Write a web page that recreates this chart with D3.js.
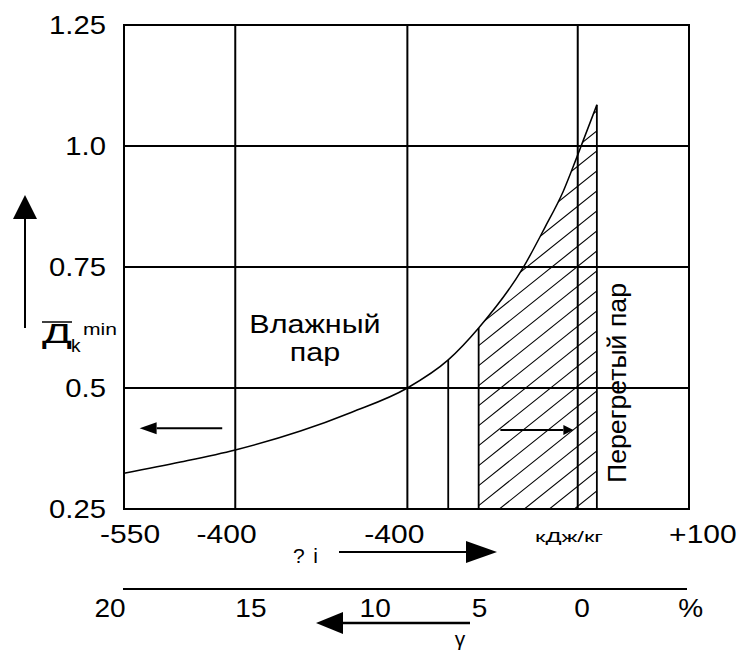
<!DOCTYPE html>
<html>
<head>
<meta charset="utf-8">
<script src="https://cdn.jsdelivr.net/npm/d3@7"></script>
<style>
  body { margin: 0; background: #fff; }
  text { font-family: "Liberation Sans", Arial, sans-serif; fill: #000; }
</style>
</head>
<body>
<div id="chart"></div>
<script>
// values
var yTicks = [0.25, 0.5, 0.75, 1.0, 1.25];
var yTickLabels = ["0.25", "0.5", "0.75", "1.0", "1.25"];

// vertical grid lines, in Δi (kJ/kg)
var iGrid = [-550, -422, -224, -28, 100];
var iTickAt = [-543, -432, -239, -38, 116];
var iTickLabels = ["-550", "-400", "-400", "кДж/кг", "+100"];

// moisture scale under the plot
var gammaTickAt = [-566, -404, -261, -141, -23, 102];
var gammaTickLabels = ["20", "15", "10", "5", "0", "%"];

// the curve D_k min vs Δi
var curveI = [-550, -485, -422, -347, -288, -224, -177, -142, -91, -66, -45, -29, -6];
var curveD = [0.324, 0.347, 0.372, 0.411, 0.450, 0.500, 0.558, 0.624, 0.748, 0.831, 0.905, 0.977, 1.085];

// lines dropped from the curve to the bottom
var dropI = [-177, -142, -6];
var hatchFrom = -142, hatchTo = -6;

var W = 740, H = 651;
var pLeft = 124, pRight = 689, pTop = 25, pBottom = 509;

var svg = d3.select("#chart").append("svg")
    .attr("width", W)
    .attr("height", H);

var x = d3.scaleLinear().domain([-550, 100]).range([pLeft, pRight]);
var y = d3.scaleLinear().domain([0.25, 1.25]).range([pBottom, pTop]);

var pts = curveI.map(function(d, i) { return [d, curveD[i]]; });

// stretch text horizontally like the original
function stretch(sel, k) {
  sel.each(function() {
    var len = this.getComputedTextLength();
    d3.select(this).attr("textLength", len * k).attr("lengthAdjust", "spacingAndGlyphs");
  });
}

// hatched region (superheated steam)
var hatchPts = pts.filter(function(p) { return p[0] >= hatchFrom; });
var area = d3.area()
    .x(function(p) { return x(p[0]); })
    .y0(y(0.25))
    .y1(function(p) { return y(p[1]); })
    .curve(d3.curveMonotoneX);

svg.append("clipPath").attr("id", "hclip")
  .append("path").attr("d", area(hatchPts));

var hx0 = x(hatchFrom), hx1 = x(hatchTo), slope = 0.8;
var hg = svg.append("g").attr("clip-path", "url(#hclip)");
hg.selectAll("line")
  .data(d3.range(pBottom + (hx1 - hx0) * slope + 2, pTop, -20))
  .enter().append("line")
    .attr("x1", hx0).attr("y1", function(b) { return b; })
    .attr("x2", hx1).attr("y2", function(b) { return b - (hx1 - hx0) * slope; })
    .attr("stroke", "#000").attr("stroke-width", 1.1);

// grid
svg.append("g").selectAll("line")
  .data(yTicks)
  .enter().append("line")
    .attr("x1", pLeft).attr("x2", pRight)
    .attr("y1", function(d) { return y(d); }).attr("y2", function(d) { return y(d); })
    .attr("stroke", "#000").attr("stroke-width", 2);

svg.append("g").selectAll("line")
  .data(iGrid)
  .enter().append("line")
    .attr("x1", function(d) { return x(d); }).attr("x2", function(d) { return x(d); })
    .attr("y1", pTop).attr("y2", pBottom)
    .attr("stroke", "#000").attr("stroke-width", 2);

// drop lines
svg.append("g").selectAll("line")
  .data(dropI)
  .enter().append("line")
    .attr("x1", function(d) { return x(d); }).attr("x2", function(d) { return x(d); })
    .attr("y1", function(d) { return y(curveD[curveI.indexOf(d)]); })
    .attr("y2", pBottom)
    .attr("stroke", "#000").attr("stroke-width", 1.8);

// curve
var line = d3.line()
    .x(function(p) { return x(p[0]); })
    .y(function(p) { return y(p[1]); })
    .curve(d3.curveMonotoneX);

svg.append("path")
    .datum(pts)
    .attr("d", line)
    .attr("fill", "none")
    .attr("stroke", "#000")
    .attr("stroke-width", 1.5);

// y tick labels
svg.append("g").selectAll("text")
  .data(yTicks)
  .enter().append("text")
    .attr("x", 106)
    .attr("y", function(d) { return y(d) + 9; })
    .attr("text-anchor", "end")
    .attr("font-size", 25)
    .text(function(d, i) { return yTickLabels[i]; })
    .call(stretch, 1.17);

// Δi labels
svg.append("g").selectAll("text")
  .data(iTickAt)
  .enter().append("text")
    .attr("x", function(d) { return x(d); })
    .attr("y", function(d, i) { return i == 3 ? 542 : 543; })
    .attr("text-anchor", "middle")
    .attr("font-size", function(d, i) { return i == 3 ? 14 : 25; })
    .text(function(d, i) { return iTickLabels[i]; })
    .each(function(d, i) {
      var len = this.getComputedTextLength();
      d3.select(this).attr("textLength", i == 3 ? 68 : len * 1.2).attr("lengthAdjust", "spacingAndGlyphs");
    });

// γ labels
svg.append("line")
    .attr("x1", pLeft - 1).attr("x2", pRight - 2)
    .attr("y1", 589).attr("y2", 589)
    .attr("stroke", "#000").attr("stroke-width", 2);

svg.append("g").selectAll("text")
  .data(gammaTickAt)
  .enter().append("text")
    .attr("x", function(d) { return x(d); })
    .attr("y", 617)
    .attr("text-anchor", "middle")
    .attr("font-size", 25)
    .text(function(d, i) { return gammaTickLabels[i]; })
    .call(stretch, 1.12);

// arrows
function arrow(x1, x2, yy, len, half, sw) {
  var dir = x2 > x1 ? 1 : -1;
  var base = x2 - dir * len;
  svg.append("line")
      .attr("x1", x1).attr("x2", base).attr("y1", yy).attr("y2", yy)
      .attr("stroke", "#000").attr("stroke-width", sw);
  svg.append("path")
      .attr("d", "M" + base + "," + (yy - half) + "L" + x2 + "," + yy + "L" + base + "," + (yy + half) + "Z")
      .attr("fill", "#000");
}

arrow(339, 497, 552, 31, 11, 2);              // Δi arrow
arrow(470, 316, 623, 27, 11, 2.5);            // γ arrow
arrow(x(-437), x(-532), y(0.417), 17, 6, 2);  // wet steam
arrow(x(-117), x(-33), y(0.413), 10, 5, 2);   // superheated

// y axis arrow
svg.append("line")
    .attr("x1", 25).attr("x2", 25).attr("y1", 328).attr("y2", 216)
    .attr("stroke", "#000").attr("stroke-width", 2);
svg.append("path")
    .attr("d", "M13,219L25,195L37,219Z")
    .attr("fill", "#000");

// y axis title  D̄k^min
svg.append("line")
    .attr("x1", 42).attr("x2", 72).attr("y1", 322).attr("y2", 322)
    .attr("stroke", "#000").attr("stroke-width", 1.5);
svg.append("text").attr("x", 42).attr("y", 343).attr("font-size", 27)
    .attr("textLength", 30).attr("lengthAdjust", "spacingAndGlyphs").text("Д");
svg.append("text").attr("x", 71).attr("y", 352).attr("font-size", 19).text("k");
svg.append("text").attr("x", 83).attr("y", 335).attr("font-size", 17)
    .attr("textLength", 34).attr("lengthAdjust", "spacingAndGlyphs").text("min");

// Δi label
svg.append("text").attr("x", 293).attr("y", 563).attr("font-size", 21)
    .attr("textLength", 25).attr("lengthAdjust", "spacing").text("?i");

// γ label
svg.append("text").attr("x", 460).attr("y", 646).attr("text-anchor", "middle")
    .attr("font-size", 21).text("γ");

// region labels
svg.append("text").attr("x", 315).attr("y", 333).attr("text-anchor", "middle")
    .attr("font-size", 25).text("Влажный").call(stretch, 1.22);
svg.append("text").attr("x", 315).attr("y", 361).attr("text-anchor", "middle")
    .attr("font-size", 25).text("пар").call(stretch, 1.22);

svg.append("text")
    .attr("transform", "translate(" + 626 + "," + 383 + ") rotate(-90)")
    .attr("text-anchor", "middle")
    .attr("font-size", 25)
    .attr("textLength", 200).attr("lengthAdjust", "spacingAndGlyphs")
    .text("Перегретый пар");

// frame
svg.append("rect")
    .attr("x", pLeft).attr("y", pTop)
    .attr("width", pRight - pLeft).attr("height", pBottom - pTop)
    .attr("fill", "none").attr("stroke", "#000").attr("stroke-width", 2);
</script>
</body>
</html>
